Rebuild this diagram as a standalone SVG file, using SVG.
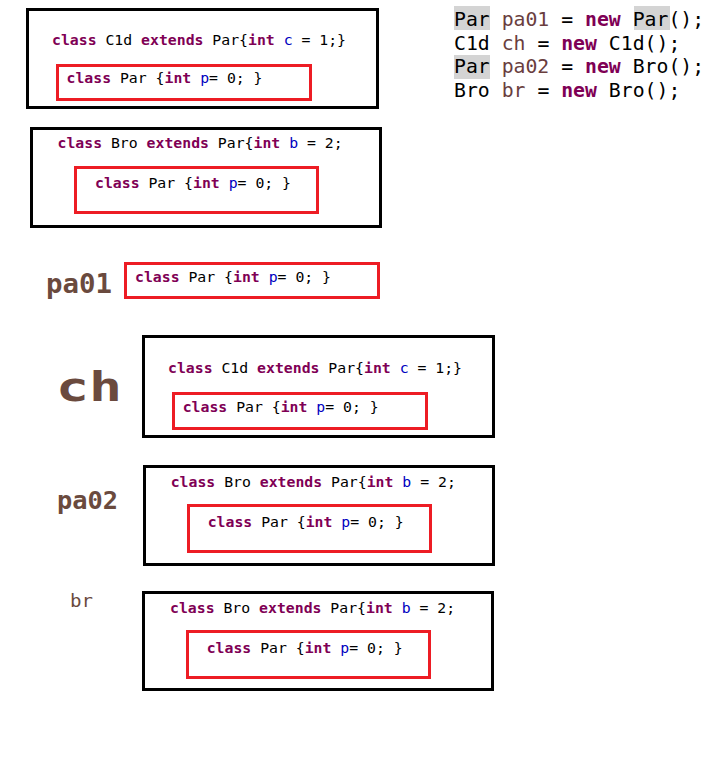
<svg xmlns="http://www.w3.org/2000/svg" width="727" height="760" viewBox="0 0 727 760">
<style>
text{font-family:"DejaVu Sans Mono","Liberation Mono",monospace;white-space:pre;fill:#000}
.c{font-size:14.8px}
.k{fill:#7f0055;font-weight:bold}
.f{fill:#0000c0}
.v{fill:#6a3e3e}
.outer{fill:none;stroke:#000;stroke-width:3}
.inner{fill:none;stroke:#ed1c24;stroke-width:3}
.hl{fill:#d4d4d4}
.big{fill:#6a4a3e;font-weight:bold}
.code{font-size:19.8px}
</style>
<rect width="727" height="760" fill="#fff"/>

<g id="code">
<rect class="hl" x="454" y="6" width="36" height="24"/>
<rect class="hl" x="634" y="6" width="36" height="24"/>
<rect class="hl" x="454" y="55" width="36" height="24"/>
<text class="code" x="454" y="26">Par <tspan class="v">pa01</tspan> = <tspan class="k">new</tspan> Par();</text>
<text class="code" x="454" y="50">C1d <tspan class="v">ch</tspan> = <tspan class="k">new</tspan> C1d();</text>
<text class="code" x="454" y="73">Par <tspan class="v">pa02</tspan> = <tspan class="k">new</tspan> Bro();</text>
<text class="code" x="454" y="97">Bro <tspan class="v">br</tspan> = <tspan class="k">new</tspan> Bro();</text>
</g>

<g id="c1d-class">
<rect class="outer" x="27.5" y="9.5" width="350" height="98"/>
<text class="c" x="52" y="45"><tspan class="k">class</tspan> C1d <tspan class="k">extends</tspan> Par{<tspan class="k">int</tspan> <tspan class="f">c</tspan> = 1;}</text>
<rect class="inner" x="57.5" y="65.5" width="253" height="34"/>
<text class="c" x="66.5" y="83"><tspan class="k">class</tspan> Par {<tspan class="k">int</tspan> <tspan class="f">p</tspan>= 0; }</text>
</g>

<g id="bro-class">
<rect class="outer" x="31.5" y="128.5" width="349" height="98"/>
<text class="c" x="57.5" y="148"><tspan class="k">class</tspan> Bro <tspan class="k">extends</tspan> Par{<tspan class="k">int</tspan> <tspan class="f">b</tspan> = 2;</text>
<rect class="inner" x="75.5" y="167.5" width="242" height="45"/>
<text class="c" x="95" y="188"><tspan class="k">class</tspan> Par {<tspan class="k">int</tspan> <tspan class="f">p</tspan>= 0; }</text>
</g>

<g id="pa01">
<text class="big" x="46" y="293" font-size="26" textLength="66" lengthAdjust="spacingAndGlyphs">pa01</text>
<rect class="inner" x="125.5" y="263.5" width="253" height="34"/>
<text class="c" x="135" y="282"><tspan class="k">class</tspan> Par {<tspan class="k">int</tspan> <tspan class="f">p</tspan>= 0; }</text>
</g>

<g id="ch">
<text class="big" x="56" y="401" font-size="40" textLength="66" lengthAdjust="spacingAndGlyphs">ch</text>
<rect class="outer" x="143.5" y="336.5" width="350" height="100"/>
<text class="c" x="168" y="373"><tspan class="k">class</tspan> C1d <tspan class="k">extends</tspan> Par{<tspan class="k">int</tspan> <tspan class="f">c</tspan> = 1;}</text>
<rect class="inner" x="173.5" y="393.5" width="253" height="35"/>
<text class="c" x="182.7" y="412"><tspan class="k">class</tspan> Par {<tspan class="k">int</tspan> <tspan class="f">p</tspan>= 0; }</text>
</g>

<g id="pa02">
<text class="big" x="57" y="509" font-size="24" textLength="61" lengthAdjust="spacingAndGlyphs">pa02</text>
<rect class="outer" x="144.5" y="466.5" width="349" height="98"/>
<text class="c" x="170.7" y="487"><tspan class="k">class</tspan> Bro <tspan class="k">extends</tspan> Par{<tspan class="k">int</tspan> <tspan class="f">b</tspan> = 2;</text>
<rect class="inner" x="188.5" y="505.5" width="242" height="46"/>
<text class="c" x="207.7" y="527"><tspan class="k">class</tspan> Par {<tspan class="k">int</tspan> <tspan class="f">p</tspan>= 0; }</text>
</g>

<g id="br">
<text class="big" x="70" y="607" font-size="18" font-weight="normal" style="font-weight:normal" textLength="23" lengthAdjust="spacingAndGlyphs">br</text>
<rect class="outer" x="143.5" y="592.5" width="349" height="97"/>
<text class="c" x="170" y="613"><tspan class="k">class</tspan> Bro <tspan class="k">extends</tspan> Par{<tspan class="k">int</tspan> <tspan class="f">b</tspan> = 2;</text>
<rect class="inner" x="187.5" y="631.5" width="242" height="46"/>
<text class="c" x="206.7" y="653"><tspan class="k">class</tspan> Par {<tspan class="k">int</tspan> <tspan class="f">p</tspan>= 0; }</text>
</g>

<g id="connectors"></g>
</svg>
